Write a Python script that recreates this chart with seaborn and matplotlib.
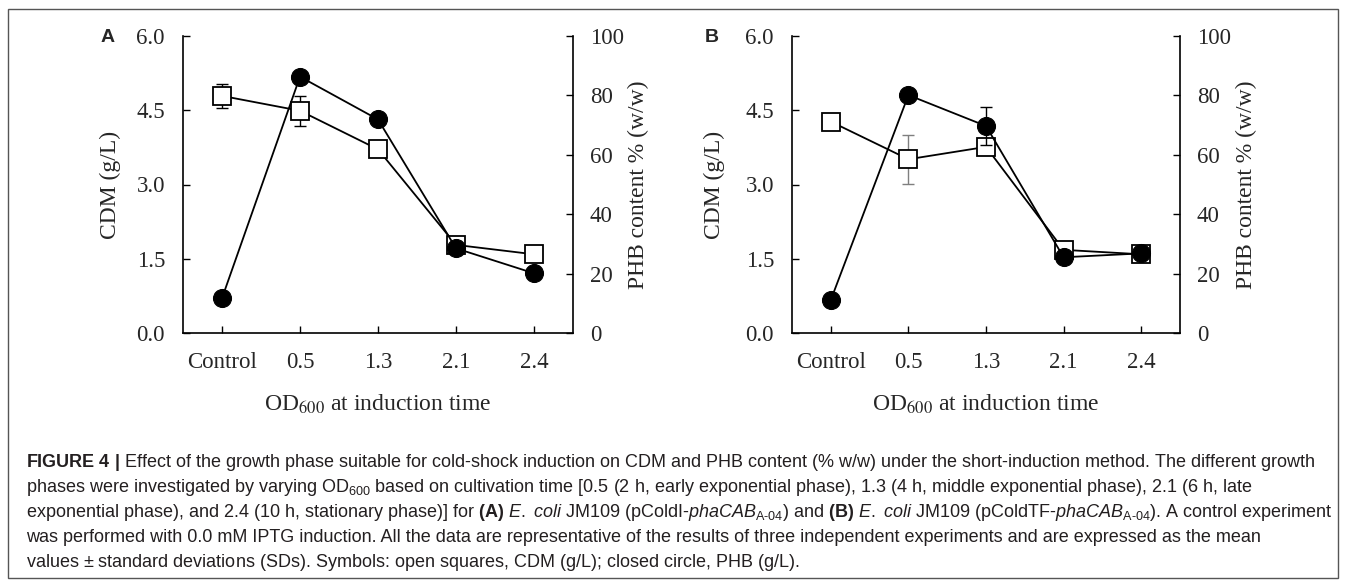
import numpy as np
import matplotlib
matplotlib.use('Agg')
import matplotlib.pyplot as plt
import seaborn as sns

# OD600 at induction time
categories = ['Control', '0.5', '1.3', '2.1', '2.4']

# panel A: E. coli JM109 (pColdI-phaCAB)
cdm_a = [4.79, 4.49, 3.71, 1.78, 1.59]
cdm_a_sd = [0.25, 0.30, 0.0, 0.0, 0.0]
phb_a = [11.7, 86.3, 71.9, 28.5, 20.1]
phb_a_sd = [0.0, 0.0, 0.0, 0.0, 0.0]

# panel B: E. coli JM109 (pColdTF-phaCAB)
cdm_b = [4.27, 3.51, 3.76, 1.68, 1.59]
cdm_b_sd = [0.0, 0.50, 0.0, 0.0, 0.0]
phb_b = [11.1, 80.1, 69.7, 25.5, 26.8]
phb_b_sd = [1.5, 0.0, 6.3, 0.0, 0.0]

cdm_ticks = [0.0, 1.5, 3.0, 4.5, 6.0]
phb_ticks = [0, 20, 40, 60, 80, 100]

caption = [
    r"$\mathbf{FIGURE\ 4\ |}$ Effect of the growth phase suitable for cold-shock induction on CDM and PHB content (% w/w) under the short-induction method. The different growth",
    r"phases were investigated by varying OD$_{600}$ based on cultivation time [0.5 (2 h, early exponential phase), 1.3 (4 h, middle exponential phase), 2.1 (6 h, late",
    r"exponential phase), and 2.4 (10 h, stationary phase)] for $\mathbf{(A)}$ $\mathit{E.}$ $\mathit{coli}$ JM109 (pColdI-$\mathit{phaCAB}_{\mathrm{A\text{-}04}}$) and $\mathbf{(B)}$ $\mathit{E.}$ $\mathit{coli}$ JM109 (pColdTF-$\mathit{phaCAB}_{\mathrm{A\text{-}04}}$). A control experiment",
    r"was performed with 0.0 mM IPTG induction. All the data are representative of the results of three independent experiments and are expressed as the mean",
    r"values $\pm$ standard deviations (SDs). Symbols: open squares, CDM (g/L); closed circle, PHB (g/L).",
]

sns.set_style('ticks')
plt.rcParams['font.family'] = ['Liberation Serif', 'DejaVu Serif']
plt.rcParams['mathtext.fontset'] = 'custom'
plt.rcParams['mathtext.rm'] = 'Liberation Sans'
plt.rcParams['mathtext.it'] = 'Liberation Sans:italic'
plt.rcParams['mathtext.bf'] = 'Liberation Sans:bold'

W, H = 1346, 581
fig = plt.figure(figsize=(W / 100, H / 100), dpi=100)


def px_rect(left, top, right, bottom):
    return [left / W, 1 - bottom / H, (right - left) / W, (bottom - top) / H]


def draw_panel(rect, letter, letter_x, cdm, cdm_sd, phb, phb_sd, cdm_err_color, ylab_x, ylab2_x):
    ax = fig.add_axes(rect)
    x = np.arange(len(categories))
    cdm = np.array(cdm)
    cdm_sd = np.array(cdm_sd)
    phb = np.array(phb)
    phb_sd = np.array(phb_sd)

    m = cdm_sd > 0
    ax.errorbar(x[m], cdm[m], yerr=cdm_sd[m], fmt='none', ecolor=cdm_err_color,
                elinewidth=1, capsize=4, capthick=1, zorder=1)
    sns.lineplot(x=x, y=cdm, ax=ax, color='black', lw=1.3, marker='s', markersize=12.5,
                 markerfacecolor='white', markeredgecolor='black', markeredgewidth=1.3, zorder=2)
    ax.set_xlim(-0.5, 4.5)
    ax.set_ylim(0, 6)
    ax.set_yticks(cdm_ticks, [f'{t:.1f}' for t in cdm_ticks])
    ax.set_xticks(x, categories)
    ax.tick_params(direction='in', length=5, width=1, labelsize=16.5, color='black')
    ax.tick_params(axis='y', pad=13)
    ax.tick_params(axis='x', pad=14)
    ax.spines['top'].set_visible(False)
    ax.spines['right'].set_visible(False)
    for s in ['left', 'bottom']:
        ax.spines[s].set_linewidth(1.2)
        ax.spines[s].set_color('black')
    ax.set_ylabel('CDM (g/L)', fontsize=17)
    ax.yaxis.set_label_coords(ylab_x, 0.5)
    ax.set_xlabel('OD$_{600}$ at induction time', fontsize=17, math_fontfamily='stix')
    ax.xaxis.set_label_coords(0.5, -0.2)

    ax2 = ax.twinx()
    m2 = phb_sd > 0
    ax2.errorbar(x[m2], phb[m2], yerr=phb_sd[m2], fmt='none', ecolor='black',
                 elinewidth=1, capsize=4, capthick=1, zorder=1)
    sns.lineplot(x=x, y=phb, ax=ax2, color='black', lw=1.3, marker='o', markersize=13,
                 markerfacecolor='black', markeredgecolor='black', zorder=2)
    ax2.set_ylim(0, 100)
    ax2.set_yticks(phb_ticks, [str(t) for t in phb_ticks])
    ax2.tick_params(direction='in', length=5, width=1, labelsize=16.5, pad=12, color='black')
    for s in ['top', 'left', 'bottom']:
        ax2.spines[s].set_visible(False)
    ax2.spines['right'].set_linewidth(1.2)
    ax2.spines['right'].set_color('black')
    ax2.set_ylabel('PHB content % (w/w)', fontsize=17)
    ax2.yaxis.set_label_coords(ylab2_x, 0.5)

    fig.text(letter_x / W, 1 - 37 / H, letter, fontsize=14, fontweight='bold',
             family='Liberation Sans', ha='center', va='center')


draw_panel(px_rect(183, 36, 573, 333), 'A', 108, cdm_a, cdm_a_sd, phb_a, phb_a_sd, 'black', -0.16, 1.141)
draw_panel(px_rect(792, 36, 1180, 333), 'B', 712, cdm_b, cdm_b_sd, phb_b, phb_b_sd, '#7f7f7f', -0.173, 1.144)

# caption
for i, line in enumerate(caption):
    fig.text(26 / W, 1 - (467 + i * 25) / H, line, fontsize=13, family='Liberation Sans',
             color='#231f20', ha='left', va='baseline')

# frame around the figure
fig.add_artist(plt.Rectangle((8 / W, 3 / H), 1330 / W, 1 - 12 / H, transform=fig.transFigure,
                             fill=False, edgecolor='#555555', lw=1))

fig.savefig('out.png', dpi=100)
